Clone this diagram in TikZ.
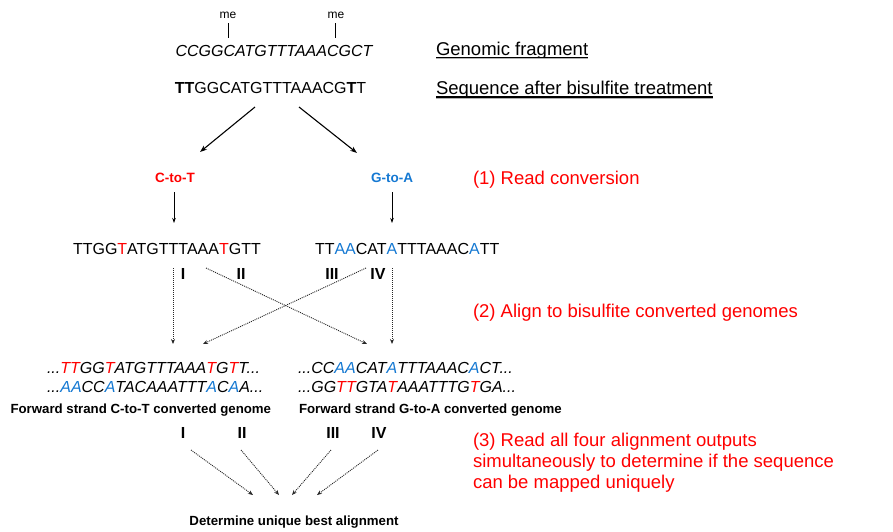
\documentclass[tikz,border=0pt]{standalone}
\usepackage{fontspec}
\setmainfont{Liberation Sans}
\usetikzlibrary{arrows.meta}
\definecolor{seqblue}{RGB}{20,120,210}
\newcommand\rc[1]{\textcolor{red}{#1}}
\newcommand\bc[1]{\textcolor{seqblue}{#1}}
\newcommand\fs[1]{\fontsize{#1}{#1}\selectfont}
\begin{document}
\begin{tikzpicture}[x=1pt,y=-1pt,
  txt/.style={inner sep=0pt, outer sep=0pt, anchor=base},
  seqtxt/.style={txt, font=\fs{16}},
  seqit/.style={txt, anchor=base west, font=\fs{16}\itshape},
  lab/.style={txt, anchor=base west, font=\fs{18.5}},
  redlab/.style={lab, text=red},
  captxt/.style={txt, anchor=base west, font=\fs{13.25}\bfseries},
  numtxt/.style={txt, font=\fs{16}\bfseries},
  convtxt/.style={txt, font=\fs{13.5}\bfseries},
  solidarr/.style={-{Stealth[length=7pt,width=5pt]}, line width=1.1pt},
  thinarr/.style={-{Stealth[length=5pt,width=3.5pt]}, line width=0.8pt},
  dotarr/.style={-{Stealth[length=5pt,width=4pt]}, line width=0.9pt, black!85, dash pattern=on 1pt off 1pt},
  uline/.style={line width=1.2pt},
]
\useasboundingbox (0,0) rectangle (893,531);
% methylation marks
\node[txt, font=\fs{12}] (me1) at (228,18) {me};
\node[txt, font=\fs{12}] (me2) at (336,18) {me};
\coordinate (t1a) at (228,23); \coordinate (t1b) at (228,38);
\coordinate (t2a) at (335,23); \coordinate (t2b) at (335,38);
\draw[line width=0.9pt] (t1a) -- (t1b);
\draw[line width=0.9pt] (t2a) -- (t2b);
% sequences
\node[seqtxt, font=\fs{16}\itshape] (frag) at (274,56) {CCGGCATGTTTAAACGCT};
\node[seqtxt] (bis) at (270.5,93) {\textbf{TT}GGCATGTTTAAACG\textbf{T}T};
% right labels
\node[lab] (gflab) at (436,55) {Genomic fragment};
\node[lab] (sblab) at (436,94.5) {Sequence after bisulfite treatment};
\draw[uline, gray!60] ([yshift=-3.6pt]gflab.base west) -- ([yshift=-3.6pt]gflab.base east);
\draw[uline] ([yshift=-2.5pt]gflab.base west) -- ([yshift=-2.5pt]gflab.base east);
\draw[uline, gray!60] ([yshift=-3.6pt]sblab.base west) -- ([yshift=-3.6pt]sblab.base east);
\draw[uline] ([yshift=-2.5pt]sblab.base west) -- ([yshift=-2.5pt]sblab.base east);
% split arrows
\coordinate (s1) at (255,107); \coordinate (e1) at (200,152);
\coordinate (s2) at (299,107); \coordinate (e2) at (357,153);
\draw[solidarr] (s1) -- (e1);
\draw[solidarr] (s2) -- (e2);
% conversion labels
\node[convtxt, text=red] (ctot) at (175,182) {C-to-T};
\node[convtxt, text=seqblue] (gtoa) at (392,182) {G-to-A};
\node[redlab] (st1) at (473,184) {(1) Read conversion};
\coordinate (v1a) at (174,192); \coordinate (v1b) at (174,223);
\coordinate (v2a) at (392,192); \coordinate (v2b) at (392,223);
\draw[thinarr] (v1a) -- (v1b);
\draw[thinarr] (v2a) -- (v2b);
% converted reads
\node[txt, anchor=base west, font=\fs{16}] (rd1) at (73,254) {TTGG\rc{T}ATGTTTAAA\rc{T}GTT};
\node[txt, anchor=base west, font=\fs{16}] (rd2) at (315,254) {TT\bc{AA}CAT\bc{A}TTTAAAC\bc{A}TT};
% numerals top
\node[numtxt] (n1) at (183,279) {I};
\node[numtxt] (n2) at (241,279) {II};
\node[numtxt] (n3) at (332,279) {III};
\node[numtxt] (n4) at (378,279) {IV};
\node[redlab] (st2) at (473,317) {(2) Align to bisulfite converted genomes};
% alignment arrows
\coordinate (d1a) at (173,268); \coordinate (d1b) at (173,344);
\coordinate (d4a) at (392,268); \coordinate (d4b) at (392,344);
\coordinate (d2a) at (206,268); \coordinate (d2b) at (367,344);
\coordinate (d3a) at (366,268); \coordinate (d3b) at (203,344);
\draw[dotarr] (d1a) -- (d1b);
\draw[dotarr] (d4a) -- (d4b);
\draw[dotarr] (d2a) -- (d2b);
\draw[dotarr] (d3a) -- (d3b);
% genomes
\node[seqit] (g1a) at (47,373.5) {...\rc{TT}GG\rc{T}ATGTTTAAA\rc{T}G\rc{T}T...};
\node[seqit] (g1b) at (47,392) {...\bc{AA}CC\bc{A}TACAAATTT\bc{A}C\bc{A}A...};
\node[seqit] (g2a) at (298,373.5) {...CC\bc{AA}CAT\bc{A}TTTAAAC\bc{A}CT...};
\node[seqit] (g2b) at (298,392) {...GG\rc{TT}GTA\rc{T}AAATTTG\rc{T}GA...};
\node[captxt] (cap1) at (10.5,413.5) {Forward strand C-to-T converted genome};
\node[captxt] (cap2) at (299,413.5) {Forward strand G-to-A converted genome};
% numerals bottom
\node[numtxt] (b1) at (183,438) {I};
\node[numtxt] (b2) at (242,438) {II};
\node[numtxt] (b3) at (333,438) {III};
\node[numtxt] (b4) at (379,438) {IV};
\node[redlab] (st3a) at (473,446.5) {(3) Read all four alignment outputs};
\node[redlab] (st3b) at (473,467.5) {simultaneously to determine if the sequence};
\node[redlab] (st3c) at (473,488.5) {can be mapped uniquely};
% final arrows
\coordinate (f1a) at (191,450); \coordinate (f1b) at (253,495);
\coordinate (f2a) at (241,450); \coordinate (f2b) at (279,495);
\coordinate (f3a) at (331,450); \coordinate (f3b) at (292,495);
\coordinate (f4a) at (378,450); \coordinate (f4b) at (317,495);
\draw[dotarr] (f1a) -- (f1b);
\draw[dotarr] (f2a) -- (f2b);
\draw[dotarr] (f3a) -- (f3b);
\draw[dotarr] (f4a) -- (f4b);
\node[captxt, anchor=base] (best) at (294,525) {Determine unique best alignment};
\end{tikzpicture}
\end{document}
